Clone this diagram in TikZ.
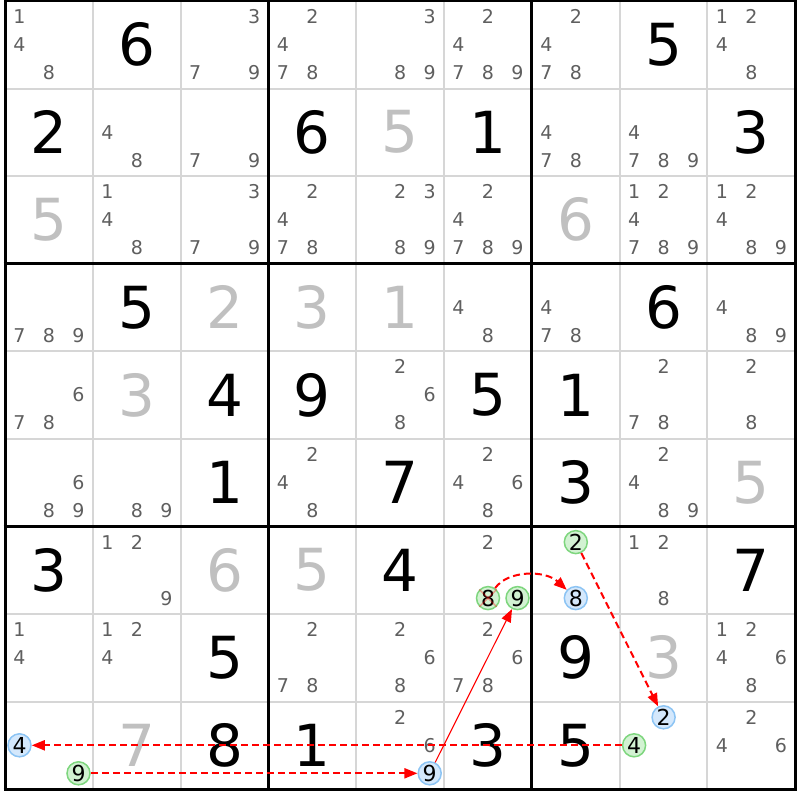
\documentclass[tikz,border=0pt]{standalone}
\usepackage{fontspec}
\setmainfont{DejaVu Sans}
\usetikzlibrary{arrows.meta}
\definecolor{candc}{HTML}{5F5F5F}
\definecolor{givc}{HTML}{C0C0C0}
\definecolor{thinc}{HTML}{D6D6D6}
\definecolor{gfill}{HTML}{D2F2D2}
\definecolor{gdraw}{HTML}{7ED67E}
\definecolor{bfill}{HTML}{D4E8FC}
\definecolor{bdraw}{HTML}{8CC4F4}
\definecolor{arrc}{HTML}{FF0000}
\newcommand\cands[3]{\foreach \d in {#3}{\node[cand] (c#1#2\d) at ({5+87.8*#2+14.5+29.5*mod(\d-1,3)},{1+87.6*#1+15.5+28*int((\d-1)/3)}) {\d};}}
\newcommand\mk[4]{\node[#4] (c#1#2#3) at ({5+87.8*#2+14.5+29.5*mod(#3-1,3)},{1+87.6*#1+15.5+28*int((#3-1)/3)}) {#3};}
\newcommand\solved[4]{\node[#4] (s#1#2) at ({5+87.8*#2+43.9},{1+87.6*#1+43.5}) {#3};}
\tikzset{
  cand/.style={text=candc, font=\fontsize{19}{19}\selectfont, inner sep=0pt},
  gc/.style={circle, draw=gdraw, fill=gfill, line width=1.5pt, minimum size=23pt, inner sep=0pt, text=black, font=\fontsize{22}{22}\selectfont},
  bc/.style={gc, draw=bdraw, fill=bfill},
  bigd/.style={text=black, font=\fontsize{58}{58}\selectfont, inner sep=0pt},
  givd/.style={bigd, text=givc},
  thingrid/.style={thinc, line width=2pt},
  thickgrid/.style={black, line width=3pt},
  arr/.style={draw=arrc, line width=2pt, dash pattern=on 7pt off 4pt, -{Triangle[length=13pt,width=10pt,fill=arrc]}},
  sarr/.style={draw=arrc, line width=1.1pt, -{Triangle[length=13pt,width=10pt,fill=arrc]}},
  xmark/.style={draw=arrc, opacity=0.35, line width=1.5pt}
}
\begin{document}
\begin{tikzpicture}[x=1pt,y=-1pt]
\useasboundingbox[fill=white] (0,0) rectangle (800,800);
% grid
\foreach \i in {1,2,4,5,7,8}{
  \draw[thingrid] ({5+87.8*\i},1) -- ({5+87.8*\i},789.4);
  \draw[thingrid] (5,{1+87.6*\i}) -- (795.2,{1+87.6*\i});
}
\foreach \i in {0,3,6,9}{
  \draw[thickgrid] ({5+87.8*\i},-0.5) -- ({5+87.8*\i},790.9);
  \draw[thickgrid] (3.5,{1+87.6*\i}) -- (796.7,{1+87.6*\i});
}
% row 0
\cands{0}{0}{1,4,8}
\solved{0}{1}{6}{bigd}
\cands{0}{2}{3,7,9}
\cands{0}{3}{2,4,7,8}
\cands{0}{4}{3,8,9}
\cands{0}{5}{2,4,7,8,9}
\cands{0}{6}{2,4,7,8}
\solved{0}{7}{5}{bigd}
\cands{0}{8}{1,2,4,8}
% row 1
\solved{1}{0}{2}{bigd}
\cands{1}{1}{4,8}
\cands{1}{2}{7,9}
\solved{1}{3}{6}{bigd}
\solved{1}{4}{5}{givd}
\solved{1}{5}{1}{bigd}
\cands{1}{6}{4,7,8}
\cands{1}{7}{4,7,8,9}
\solved{1}{8}{3}{bigd}
% row 2
\solved{2}{0}{5}{givd}
\cands{2}{1}{1,4,8}
\cands{2}{2}{3,7,9}
\cands{2}{3}{2,4,7,8}
\cands{2}{4}{2,3,8,9}
\cands{2}{5}{2,4,7,8,9}
\solved{2}{6}{6}{givd}
\cands{2}{7}{1,2,4,7,8,9}
\cands{2}{8}{1,2,4,8,9}
% row 3
\cands{3}{0}{7,8,9}
\solved{3}{1}{5}{bigd}
\solved{3}{2}{2}{givd}
\solved{3}{3}{3}{givd}
\solved{3}{4}{1}{givd}
\cands{3}{5}{4,8}
\cands{3}{6}{4,7,8}
\solved{3}{7}{6}{bigd}
\cands{3}{8}{4,8,9}
% row 4
\cands{4}{0}{6,7,8}
\solved{4}{1}{3}{givd}
\solved{4}{2}{4}{bigd}
\solved{4}{3}{9}{bigd}
\cands{4}{4}{2,6,8}
\solved{4}{5}{5}{bigd}
\solved{4}{6}{1}{bigd}
\cands{4}{7}{2,7,8}
\cands{4}{8}{2,8}
% row 5
\cands{5}{0}{6,8,9}
\cands{5}{1}{8,9}
\solved{5}{2}{1}{bigd}
\cands{5}{3}{2,4,8}
\solved{5}{4}{7}{bigd}
\cands{5}{5}{2,4,6,8}
\solved{5}{6}{3}{bigd}
\cands{5}{7}{2,4,8,9}
\solved{5}{8}{5}{givd}
% row 6
\solved{6}{0}{3}{bigd}
\cands{6}{1}{1,2,9}
\solved{6}{2}{6}{givd}
\solved{6}{3}{5}{givd}
\solved{6}{4}{4}{bigd}
\cands{6}{5}{2}
\mk{6}{5}{8}{gc}
\mk{6}{5}{9}{gc}
\mk{6}{6}{2}{gc}
\mk{6}{6}{8}{bc}
\cands{6}{7}{1,2,8}
\solved{6}{8}{7}{bigd}
% row 7
\cands{7}{0}{1,4}
\cands{7}{1}{1,2,4}
\solved{7}{2}{5}{bigd}
\cands{7}{3}{2,7,8}
\cands{7}{4}{2,6,8}
\cands{7}{5}{2,6,7,8}
\solved{7}{6}{9}{bigd}
\solved{7}{7}{3}{givd}
\cands{7}{8}{1,2,4,6,8}
% row 8
\mk{8}{0}{4}{bc}
\mk{8}{0}{9}{gc}
\solved{8}{1}{7}{givd}
\solved{8}{2}{8}{bigd}
\solved{8}{3}{1}{bigd}
\cands{8}{4}{2,6}
\mk{8}{4}{9}{bc}
\solved{8}{5}{3}{bigd}
\solved{8}{6}{5}{bigd}
\mk{8}{7}{2}{bc}
\mk{8}{7}{4}{gc}
\cands{8}{8}{2,4,6}
% elimination mark
\draw[xmark] (c658.north west) -- (c658.south east);
\draw[xmark] (c658.north east) -- (c658.south west);
% chain
\draw[arr] (c809) -- (c849);
\draw[sarr] (c849) -- (c659);
\draw[arr] (c658) .. controls (508,570) and (545,570) .. (c668);
\draw[arr] (c662) -- (c872);
\draw[arr] (c874) -- (c804);
\end{tikzpicture}
\end{document}
